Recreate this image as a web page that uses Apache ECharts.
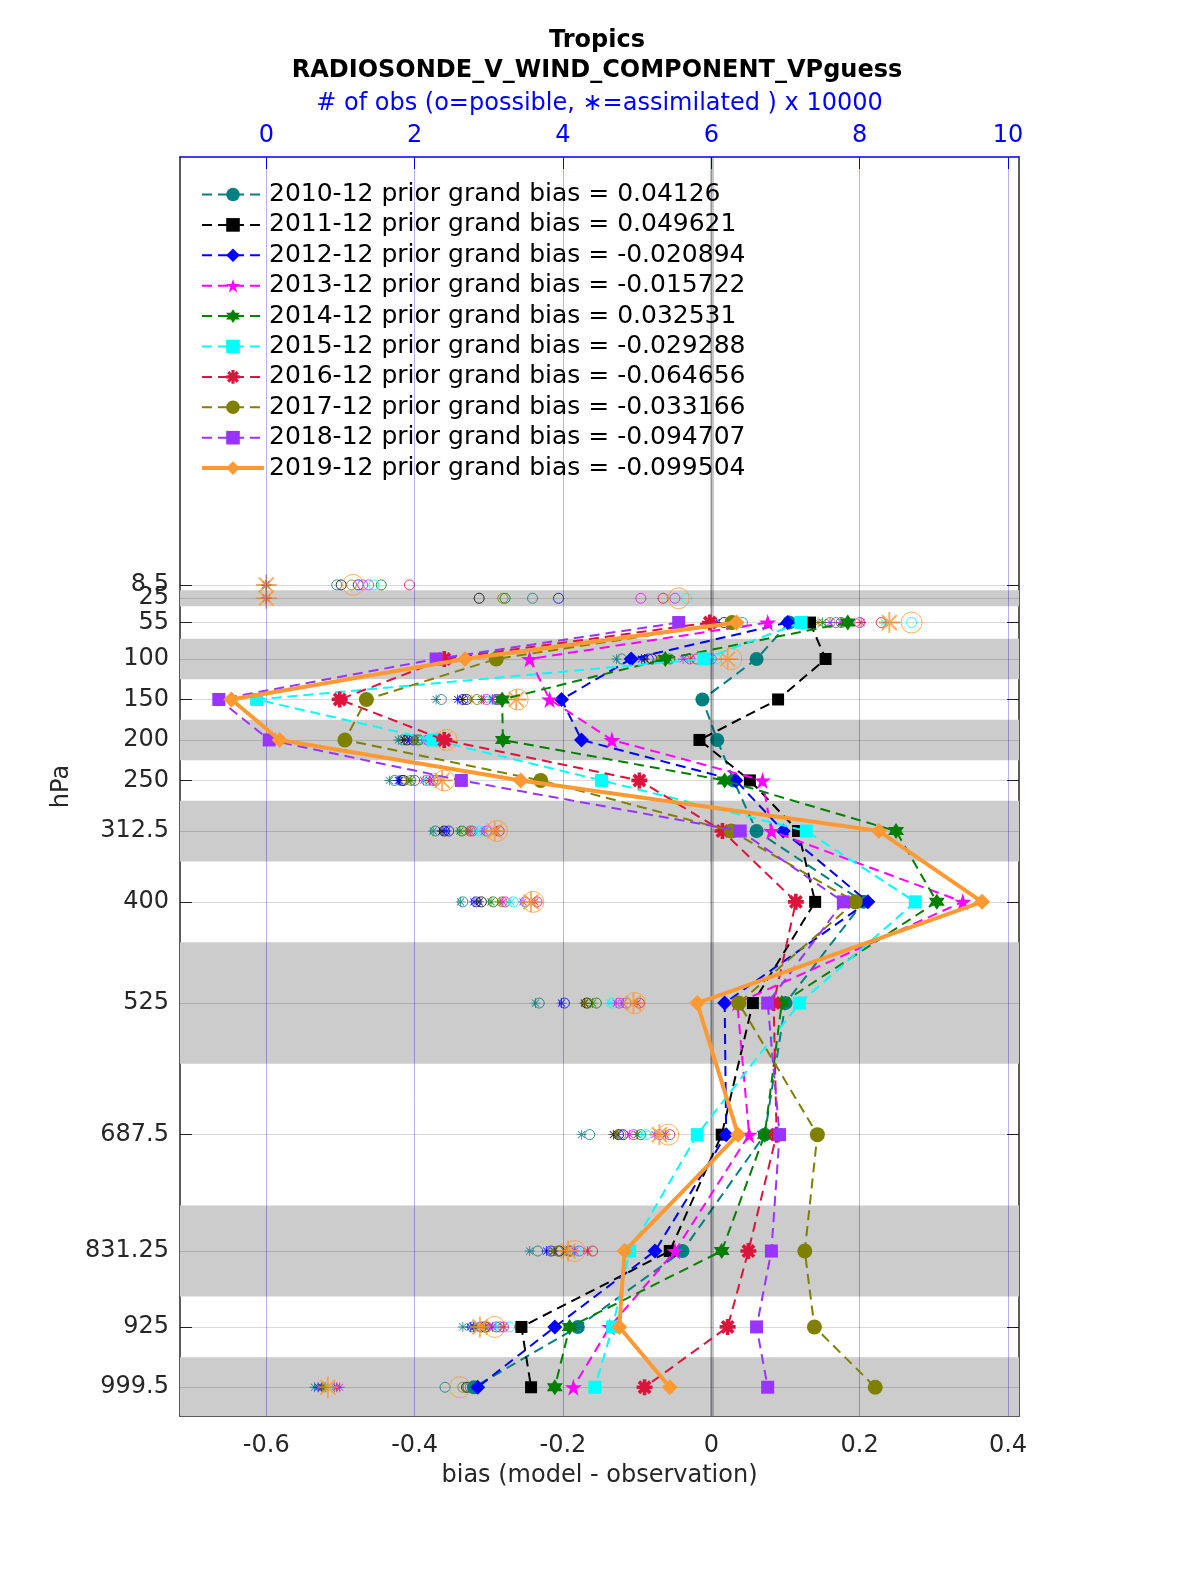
<!DOCTYPE html>
<html><head><meta charset="utf-8">
<script src="https://cdn.jsdelivr.net/npm/echarts@6/dist/echarts.min.js"></script>
<style>html,body{margin:0;padding:0;background:#fff}#c{width:1200px;height:1575px}</style>
</head><body><div id="c"></div>
<script>
// ---------------- data ----------------
const levels = [8.5, 25, 55, 100, 150, 200, 250, 312.5, 400, 525, 687.5, 831.25, 925, 999.5];
const levelLabels = ['8.5','25','55','100','150','200','250','312.5','400','525','687.5','831.25','925','999.5'];
const bandEdges = [[15,35],[75,125],[175,225],[275,350],[450,600],[775,887.5],[962.5,1035]];
const biasTicks = [-0.6,-0.4,-0.2,0,0.2,0.4];
const biasTickLabels = ['-0.6','-0.4','-0.2','0','0.2','0.4'];
const obsTicks = [0,2,4,6,8,10];
const obsTickLabels = ['0','2','4','6','8','10'];
const years = ['2010-12','2011-12','2012-12','2013-12','2014-12','2015-12','2016-12','2017-12','2018-12','2019-12'];
const grandBias = ['0.04126','0.049621','-0.020894','-0.015722','0.032531','-0.029288','-0.064656','-0.033166','-0.094707','-0.099504'];

const bias2010 = [null,null, 0.105, 0.061,-0.012, 0.008, 0.030, 0.061, 0.205, 0.100, 0.072,-0.039,-0.180,-0.320];
const bias2011 = [null,null, 0.133, 0.154, 0.090,-0.016, 0.052, 0.117, 0.140, 0.056, 0.014,-0.056,-0.256,-0.243];
const bias2012 = [null,null, 0.103,-0.108,-0.202,-0.175, 0.033, 0.097, 0.211, 0.018, 0.020,-0.076,-0.211,-0.315];
const bias2013 = [null,null, 0.076,-0.245,-0.218,-0.134, 0.069, 0.081, 0.339, 0.035, 0.051,-0.049,-0.137,-0.186];
const bias2014 = [null,null, 0.184,-0.062,-0.282,-0.281, 0.018, 0.249, 0.304, 0.095, 0.072, 0.014,-0.191,-0.211];
const bias2015 = [null,null, 0.121,-0.010,-0.613,-0.375,-0.148, 0.128, 0.275, 0.119,-0.019,-0.110,-0.133,-0.157];
const bias2016 = [null,null,-0.002,-0.360,-0.501,-0.360,-0.097, 0.015, 0.114, 0.084, 0.088, 0.050, 0.022,-0.090];
const bias2017 = [null,null, 0.028,-0.290,-0.465,-0.494,-0.230, 0.027, 0.194, 0.037, 0.143, 0.126, 0.139, 0.221];
const bias2018 = [null,null,-0.044,-0.371,-0.664,-0.596,-0.337, 0.039, 0.178, 0.076, 0.092, 0.081, 0.061, 0.076];
const bias2019 = [null,null, 0.034,-0.332,-0.647,-0.582,-0.257, 0.226, 0.365,-0.019, 0.036,-0.117,-0.124,-0.056];

const poss2010 = [0.95,3.59,6.42,4.79,2.36,1.84,1.73,2.28,2.65,3.68,4.36,3.66,2.78,2.41];
const assim2010= [0,0,6.05,4.72,2.29,1.78,1.66,2.25,2.62,3.63,4.25,3.55,2.65,0.65];
const poss2011 = [1.01,2.87,6.17,5.20,2.70,1.90,1.85,2.40,2.90,4.32,4.75,3.95,2.95,2.70];
const assim2011= [0,0,6.00,5.10,2.65,1.86,1.80,2.37,2.87,4.29,4.68,3.88,2.80,0.75];
const poss2012 = [1.24,3.94,6.27,5.15,2.65,1.98,1.83,2.46,2.83,4.02,4.81,3.84,2.90,2.80];
const assim2012= [0,0,6.07,5.06,2.58,1.93,1.78,2.43,2.80,3.98,4.74,3.78,2.75,0.70];
const poss2013 = [1.30,5.05,8.00,6.00,2.97,2.18,2.16,2.78,3.22,4.76,4.95,4.08,3.15,2.75];
const assim2013= [0,0,7.75,5.96,2.93,2.14,2.12,2.75,3.19,4.72,4.90,4.02,3.00,0.92];
const poss2014 = [1.55,3.22,7.75,5.44,3.17,2.06,2.00,2.64,3.06,4.45,5.05,4.10,3.10,2.72];
const assim2014= [0,0,7.50,5.35,2.90,2.02,1.95,2.61,3.03,4.40,5.00,4.04,2.95,0.78];
const poss2015 = [1.45,5.67,8.70,6.07,3.08,2.20,2.20,2.88,3.33,4.67,5.12,4.18,3.28,2.78];
const assim2015= [0,0,8.33,6.02,3.02,2.12,2.15,2.85,3.30,4.63,5.08,4.12,3.10,0.88];
const poss2016 = [1.93,5.35,8.29,5.80,3.12,2.27,2.25,3.14,3.65,5.03,5.44,4.40,3.42,2.85];
const assim2016= [0,0,8.02,5.72,3.05,2.24,2.20,3.10,3.62,5.00,5.38,4.33,3.20,0.95];
const poss2017 = [1.15,3.19,7.60,5.38,2.84,2.03,1.95,2.75,3.18,4.34,4.78,3.93,2.98,2.65];
const assim2017= [0,0,7.44,5.30,2.76,2.00,1.90,2.72,3.15,4.30,4.72,3.87,2.85,0.80];
const poss2018 = [1.38,5.51,7.68,5.71,3.10,2.30,2.29,2.97,3.49,4.85,5.30,4.22,3.20,2.80];
const assim2018= [0,0,7.60,5.62,3.05,2.27,2.25,2.94,3.46,4.81,5.24,4.16,3.05,0.99];
const poss2019 = [1.17,5.56,8.70,6.27,3.39,2.43,2.40,3.11,3.60,4.97,5.42,4.16,3.08,2.61];
const assim2019= [0,0,8.40,6.22,3.37,2.39,2.37,3.08,3.57,4.95,5.30,4.07,2.88,0.83];

const biasAll  = [bias2010,bias2011,bias2012,bias2013,bias2014,bias2015,bias2016,bias2017,bias2018,bias2019];
const possAll  = [poss2010,poss2011,poss2012,poss2013,poss2014,poss2015,poss2016,poss2017,poss2018,poss2019];
const assimAll = [assim2010,assim2011,assim2012,assim2013,assim2014,assim2015,assim2016,assim2017,assim2018,assim2019];

// ---------------- styles ----------------
const FONT = 'DejaVu Sans';
const AX = '#262626';
const colors = ['#008080','#000000','#0000ff','#ff00ff','#008000','#00ffff','#dc143c','#808000','#9933ff','#ff9933'];

function asteriskPath(t){
  const c = 10, r = 10; let p = '';
  [0,45,90,135].forEach(a=>{
    const rad=a*Math.PI/180, dx=Math.cos(rad), dy=Math.sin(rad), nx=-dy, ny=dx;
    const pts=[[c+r*dx+t*nx,c+r*dy+t*ny],[c+r*dx-t*nx,c+r*dy-t*ny],[c-r*dx-t*nx,c-r*dy-t*ny],[c-r*dx+t*nx,c-r*dy+t*ny]];
    p += 'M'+pts.map(q=>q[0].toFixed(2)+' '+q[1].toFixed(2)).join('L')+'Z';
  });
  return 'path://'+p;
}
const STAR5 = 'path://M10 0L12.25 6.91L19.51 6.91L13.63 11.18L15.88 18.09L10 13.82L4.12 18.09L6.37 11.18L0.49 6.91L7.75 6.91Z';
const STAR6 = 'path://M10 0L12.89 5L18.66 5L15.77 10L18.66 15L12.89 15L10 20L7.11 15L1.34 15L4.23 10L1.34 5L7.11 5Z';
const symbols = ['circle','rect','diamond',STAR5,STAR6,'rect',asteriskPath(2.3),'circle','rect','diamond'];
const symSizes = [14,12,15,17,16,13,16,15,13,16];
const ASTER = asteriskPath(0.9);

const names = years.map((y,i)=> y + ' prior grand bias = ' + grandBias[i]);
// the two closely spaced top levels are labelled by two overlapping axes so neither label gets dropped
const levelsMain = levels.slice(1);
const levelsTop = levels.slice(0,1);
const levelFmt = (v)=>{const k=levels.findIndex(t=>Math.abs(t-v)<1e-9); return k<0?'':levelLabels[k];};

const series = [];
// background bands
series.push({
  type:'scatter', xAxisIndex:0, yAxisIndex:0, data:[[0,-1000]], symbolSize:0, silent:true, z:1,
  markArea:{silent:true, itemStyle:{color:'#cccccc', opacity:1},
    data: bandEdges.map(b=>[{yAxis:b[0]},{yAxis:b[1]}])}
});
// horizontal grid lines at levels + zero line
series.push({
  type:'scatter', xAxisIndex:0, yAxisIndex:0, data:[[0,-1000]], symbolSize:0, silent:true, z:2,
  markLine:{silent:true, symbol:['none','none'], label:{show:false}, animation:false,
    lineStyle:{color:'rgba(0,0,0,0.15)', width:1, type:'solid'},
    data: levels.map(l=>({yAxis:l})).concat([{xAxis:0, lineStyle:{color:'rgba(0,0,0,0.22)', width:4, type:'solid'}}])}
});
// vertical grid lines of the obs axis
series.push({
  type:'scatter', xAxisIndex:1, yAxisIndex:0, data:[[0,-1000]], symbolSize:0, silent:true, z:2,
  markLine:{silent:true, symbol:['none','none'], label:{show:false}, animation:false,
    lineStyle:{color:'rgba(0,0,200,0.3)', width:1, type:'solid'},
    data: obsTicks.map(v=>({xAxis:v}))}
});
// obs counts
years.forEach((y,i)=>{
  const big = i===9;
  series.push({
    name:'possible '+y, type:'scatter', xAxisIndex:1, yAxisIndex:0, z:3, silent:true,
    symbol:'circle', symbolSize: big?21:10,
    itemStyle:{color:'rgba(0,0,0,0)', borderColor:colors[i], borderWidth:1},
    data: levels.map((l,k)=>[possAll[i][k], l])
  });
  series.push({
    name:'assimilated '+y, type:'scatter', xAxisIndex:1, yAxisIndex:0, z:3, silent:true,
    symbol:ASTER, symbolSize: big?21:10,
    itemStyle:{color:colors[i], borderWidth:0},
    data: levels.map((l,k)=>[assimAll[i][k], l])
  });
});
// bias lines
years.forEach((y,i)=>{
  const last = i===9;
  series.push({
    name:names[i], type:'line', xAxisIndex:0, yAxisIndex:0, z:4+i, silent:true,
    symbol:symbols[i], symbolSize:symSizes[i], showAllSymbol:true,
    itemStyle:{color:colors[i]},
    lineStyle:{color:colors[i], width: last?4:2, type: last?'solid':[10,6]},
    data: levels.map((l,k)=> biasAll[i][k]==null ? null : [biasAll[i][k], l]).filter(d=>d)
  });
});

const option = {
  animation:false,
  backgroundColor:'#ffffff',
  textStyle:{fontFamily:FONT},
  title:[
    {text:'Tropics', left:597, top:29, textAlign:'center', padding:0,
     textStyle:{fontSize:24, fontWeight:'bold', color:'#000', fontFamily:FONT}},
    {text:'RADIOSONDE_V_WIND_COMPONENT_VPguess', left:597, top:59, textAlign:'center', padding:0,
     textStyle:{fontSize:24, fontWeight:'bold', color:'#000', fontFamily:FONT}}
  ],
  legend:{
    data: names.map((n,i)=> i===9 ? {name:n, lineStyle:{width:4}} : {name:n}),
    orient:'vertical', left:200, top:182, itemWidth:62, itemHeight:17, itemGap:5.4,
    selectedMode:false, padding:0,
    textStyle:{fontSize:25, color:'#000', fontFamily:FONT, lineHeight:24}
  },
  grid:{left:180, right:181, top:157, bottom:159, containLabel:false, outerBoundsMode:'none'},
  xAxis:[
    {type:'value', position:'bottom', min:-0.7163, max:0.4148,
     axisLine:{show:true, onZero:false, lineStyle:{color:AX, width:1.5}},
     axisTick:{show:true, inside:true, length:12, customValues:biasTicks, lineStyle:{color:AX}},
     axisLabel:{show:true, customValues:biasTicks, margin:18, fontSize:24, color:AX, fontFamily:FONT, hideOverlap:false,
       formatter:(v)=>{const k=biasTicks.findIndex(t=>Math.abs(t-v)<1e-9); return k<0?'':biasTickLabels[k];}},
     splitLine:{show:false},
     name:'bias (model - observation)', nameLocation:'middle', nameGap:48,
     nameTextStyle:{fontSize:24, color:AX, fontFamily:FONT}},
    {type:'value', position:'top', min:-1.163, max:10.148,
     axisLine:{show:true, onZero:false, lineStyle:{color:'#0000ff', width:1.5}},
     axisTick:{show:true, inside:true, length:12, customValues:obsTicks, lineStyle:{color:'#0000ff'}},
     axisLabel:{show:true, customValues:obsTicks, margin:9, fontSize:24, color:'#0000ff', fontFamily:FONT, hideOverlap:false,
       formatter:(v)=>{const k=obsTicks.findIndex(t=>Math.abs(t-v)<1e-9); return k<0?'':obsTickLabels[k];}},
     splitLine:{show:false},
     name:'# of obs (o=possible, \u2217=assimilated ) x 10000', nameLocation:'middle', nameGap:41,
     nameTextStyle:{fontSize:24, color:'#0000ff', fontFamily:FONT}}
  ],
  yAxis:[
    {type:'value', position:'left', inverse:true, min:-520, max:1035,
     axisLine:{show:true, onZero:false, lineStyle:{color:AX, width:1.5}},
     axisTick:{show:true, inside:true, length:12, customValues:levels, lineStyle:{color:AX}},
     axisLabel:{show:true, customValues:levelsMain, margin:11, fontSize:24, color:AX, fontFamily:FONT, hideOverlap:false,
       formatter:levelFmt},
     splitLine:{show:false},
     name:'hPa', nameLocation:'middle', nameGap:102,
     nameTextStyle:{fontSize:24, color:AX, fontFamily:FONT}},
    {type:'value', position:'right', inverse:true, min:-520, max:1035,
     axisLine:{show:true, onZero:false, lineStyle:{color:AX, width:1.5}},
     axisTick:{show:true, inside:true, length:12, customValues:levels, lineStyle:{color:AX}},
     axisLabel:{show:false}, splitLine:{show:false}},
    {type:'value', position:'left', offset:0, inverse:true, min:-520, max:1035,
     axisLine:{show:false}, axisTick:{show:false}, splitLine:{show:false},
     axisLabel:{show:true, customValues:levelsTop, margin:11, fontSize:24, color:AX, fontFamily:FONT, hideOverlap:false,
       formatter:levelFmt}}
  ],
  series: series
};
const chart = echarts.init(document.getElementById('c'), null, {renderer:'canvas'});
chart.setOption(option);
</script>
</body></html>
